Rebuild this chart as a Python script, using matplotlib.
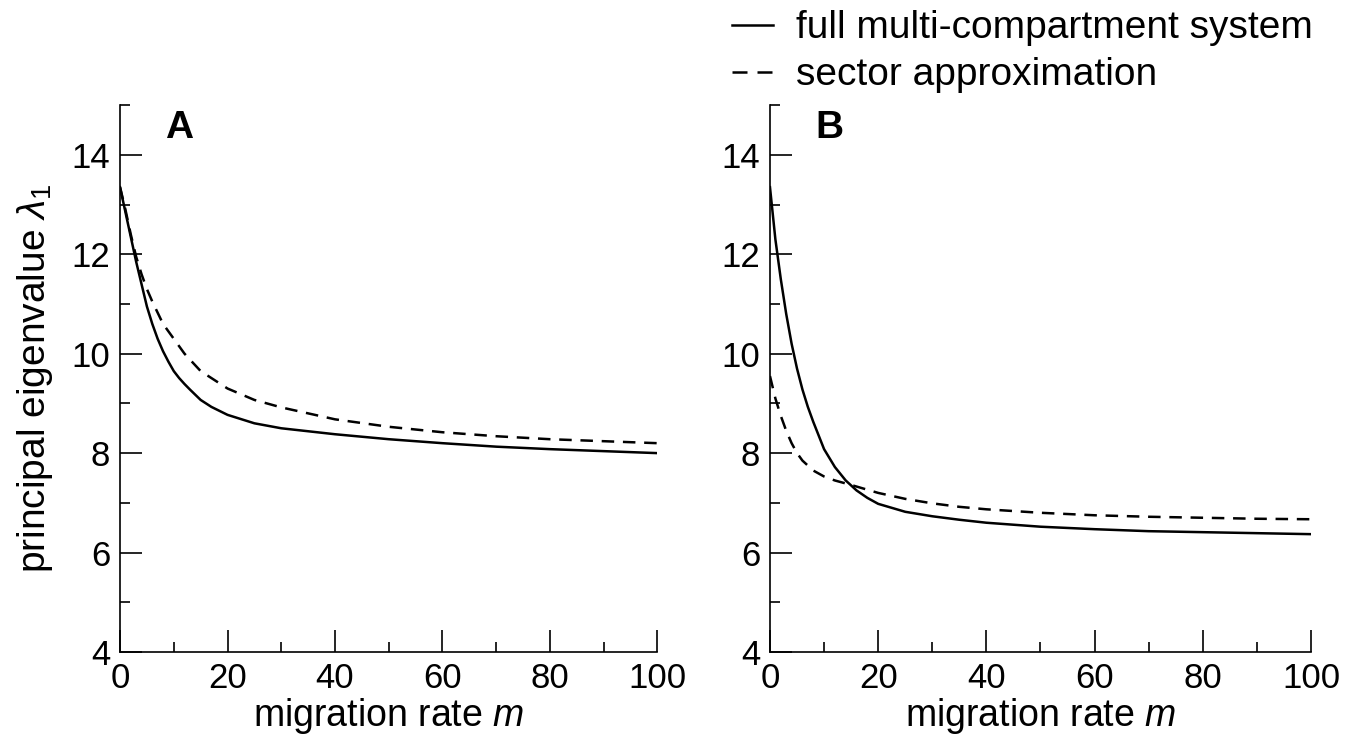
import matplotlib
matplotlib.use('Agg')
import matplotlib.pyplot as plt
from matplotlib.ticker import MultipleLocator
from matplotlib.lines import Line2D

# migration rate m and principal eigenvalue readings
m_A = [0, 1, 2, 3, 4, 5, 6, 7, 8, 9, 10, 11, 12, 13, 15, 17, 20, 25, 30, 40, 50, 60, 70, 80, 90, 100]
full_A = [13.35, 12.85, 12.35, 11.85, 11.4, 10.95, 10.6, 10.3, 10.05, 9.84, 9.65, 9.51, 9.39,
          9.28, 9.07, 8.93, 8.77, 8.6, 8.5, 8.38, 8.28, 8.2, 8.13, 8.08, 8.04, 8.0]
m_A_sec = [0, 1, 2, 3, 4, 5, 6, 8, 10, 12, 15, 20, 25, 30, 40, 50, 60, 70, 80, 90, 100]
sector_A = [13.35, 12.9, 12.4, 11.95, 11.6, 11.3, 11.05, 10.6, 10.3, 10.0, 9.65, 9.3,
            9.07, 8.92, 8.68, 8.53, 8.42, 8.34, 8.28, 8.24, 8.2]

m_B_full = [0, 1, 2, 3, 4, 5, 6, 7, 8, 10, 12, 14, 16, 18, 20, 25, 30, 35, 40, 50, 60, 70, 80, 90, 100]
full_B = [13.35, 12.3, 11.5, 10.8, 10.2, 9.7, 9.28, 8.93, 8.63, 8.08, 7.72, 7.45, 7.25,
          7.1, 6.98, 6.82, 6.73, 6.66, 6.6, 6.52, 6.47, 6.43, 6.41, 6.39, 6.37]
m_B_sec = [0, 1, 2, 3, 4, 5, 6, 8, 10, 12, 15, 20, 25, 30, 35, 40, 50, 60, 70, 80, 90, 100]
sector_B = [9.55, 9.1, 8.75, 8.45, 8.2, 8.0, 7.85, 7.65, 7.53, 7.45, 7.36, 7.2, 7.08,
            6.99, 6.92, 6.87, 6.8, 6.75, 6.72, 6.7, 6.68, 6.67]

plt.rcParams['font.family'] = ['Liberation Sans', 'DejaVu Sans']
plt.rcParams['mathtext.fontset'] = 'custom'
plt.rcParams['mathtext.rm'] = 'Liberation Sans'
plt.rcParams['mathtext.it'] = 'Liberation Sans:italic'

LW = 1.8
DASH = (5, 3.5)
LABEL_SIZE = 28


def style_axes(ax, letter):
	ax.set_xlim(0, 100)
	ax.set_ylim(4, 15)
	ax.spines['top'].set_visible(False)
	ax.spines['right'].set_visible(False)
	for s in ['left', 'bottom']:
		ax.spines[s].set_linewidth(1.2)
	ax.xaxis.set_major_locator(MultipleLocator(20))
	ax.xaxis.set_minor_locator(MultipleLocator(10))
	ax.yaxis.set_major_locator(MultipleLocator(2))
	ax.yaxis.set_minor_locator(MultipleLocator(1))
	ax.tick_params(which='both', direction='in', width=1.2, labelsize=25, pad=7)
	ax.tick_params(which='major', length=16)
	ax.tick_params(which='minor', length=7)
	ax.set_xlabel('migration rate $m$', fontsize=27, labelpad=1)
	ax.text(0.084, 0.94, letter, transform=ax.transAxes, fontsize=28,
		fontweight='bold', va='baseline', ha='left')


fig = plt.figure(figsize=(13.64, 7.43), dpi=100)
axA = fig.add_axes([0.088, 0.1225, 0.394, 0.736])
axB = fig.add_axes([0.5645, 0.1225, 0.3966, 0.736])

axA.plot(m_A, full_A, color='black', lw=LW)
axA.plot(m_A_sec, sector_A, color='black', lw=LW, dashes=DASH)
axB.plot(m_B_full, full_B, color='black', lw=LW)
axB.plot(m_B_sec, sector_B, color='black', lw=LW, dashes=DASH)

style_axes(axA, 'A')
style_axes(axB, 'B')
axA.set_ylabel('principal eigenvalue $\\lambda_1$', fontsize=LABEL_SIZE, labelpad=12)

handles = [Line2D([], [], color='black', lw=LW),
		Line2D([], [], color='black', lw=LW, dashes=(6, 4))]
fig.legend(handles, ['full multi-compartment system', 'sector approximation'],
	loc='upper left', bbox_to_anchor=(0.511, 1.033), frameon=False, fontsize=LABEL_SIZE,
	handlelength=1.05, handletextpad=0.6, labelspacing=0.28)

fig.savefig('out.png', dpi=100)
